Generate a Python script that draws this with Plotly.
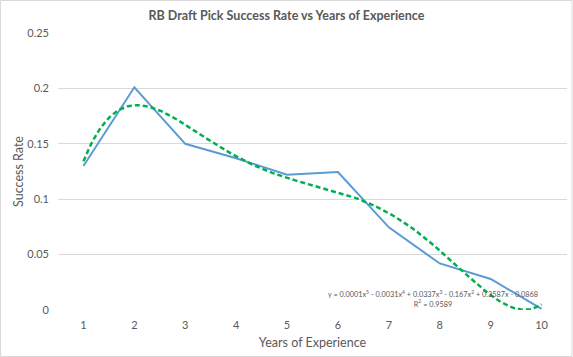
import numpy as np
import plotly.graph_objects as go

years = [1, 2, 3, 4, 5, 6, 7, 8, 9, 10]
success_rate = [0.130, 0.201, 0.150, 0.137, 0.122, 0.1245, 0.0746, 0.042, 0.028, 0.001]
y_ticks = [0, 0.05, 0.1, 0.15, 0.2, 0.25]
y_tick_labels = ["0", "0.05", "0.1", "0.15", "0.2", "0.25"]
title_text = "RB Draft Pick Success Rate vs Years of Experience"
equation_text = ("y = 0.0001x<sup>5</sup> - 0.0031x<sup>4</sup> + 0.0337x<sup>3</sup> - 0.167x<sup>2</sup>"
                 " + 0.3587x - 0.0868<br>R<sup>2</sup> = 0.9589")

# Excel-style polynomial (order 5) trendline fitted to the series
coef = np.polyfit(years, success_rate, 5)
xs = np.linspace(min(years), max(years), 200)
ys = np.polyval(coef, xs)

FONT = "Lato"
GREY = "#595959"

fig = go.Figure()
fig.add_trace(go.Scatter(x=years, y=success_rate, mode="lines",
                         line=dict(color="#5b9bd5", width=2), showlegend=False))
fig.add_trace(go.Scatter(x=xs, y=ys, mode="lines",
                         line=dict(color="#00b050", width=2.5, dash="5px,3px"), showlegend=False))

fig.update_layout(
    width=573, height=357,
    margin=dict(l=58, r=6, t=33, b=47, autoexpand=False),
    paper_bgcolor="white", plot_bgcolor="white",
    font=dict(family=FONT, color=GREY),
    title=dict(text="<b>" + title_text + "</b>", x=0.5, xanchor="center",
               y=1 - 16 / 357, yanchor="middle", font=dict(size=12.5, color=GREY)),
    xaxis=dict(range=[0.5, 10.5], tickmode="array", tickvals=years, automargin=False,
               ticktext=[str(v) for v in years], showgrid=False, zeroline=False,
               showline=False, ticks="", tickfont=dict(size=11, color=GREY),
               ticklabelstandoff=7,
               title=dict(text="Years of Experience", font=dict(size=12.5, color=GREY), standoff=8)),
    yaxis=dict(range=[0, 0.25], tickmode="array", tickvals=y_ticks, ticktext=y_tick_labels,
               automargin=False, ticklabelstandoff=8,
               showgrid=True, gridcolor="#d9d9d9", gridwidth=1, zeroline=False,
               showline=False, ticks="", tickfont=dict(size=11, color=GREY),
               title=dict(text="Success Rate", font=dict(size=12.5, color=GREY), standoff=0)),
)

fig.add_annotation(x=7.86, y=0.0103, xref="x", yref="y", text=equation_text,
                   showarrow=False, font=dict(size=7.3, color=GREY, family=FONT),
                   align="center", xanchor="center", yanchor="middle")

# light chart border as in the original
fig.add_shape(type="rect", xref="paper", yref="paper",
              x0=-57.5 / 509, x1=1 + 5 / 509, y0=-46.5 / 277, y1=1 + 32.5 / 277,
              line=dict(color="#d9d9d9", width=1), fillcolor="rgba(0,0,0,0)", layer="below")

fig.write_html("out.html", config={"displayModeBar": False},
               post_script="document.body.style.margin='0';")
